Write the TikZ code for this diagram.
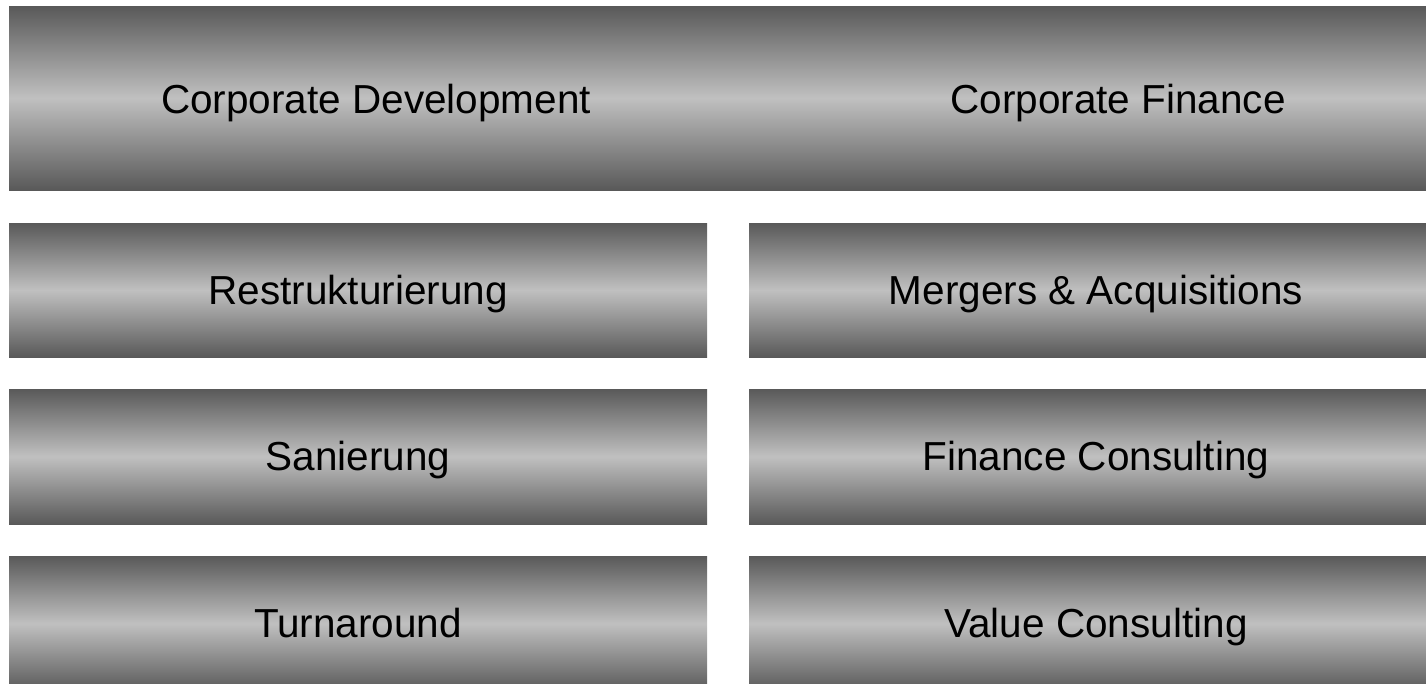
\documentclass[tikz,border=0pt]{standalone}
\usepackage{fontspec}
\setmainfont{Liberation Sans}
\begin{document}
\begin{tikzpicture}[x=1pt,y=-1pt,
  bar/.style={top color=bardark, bottom color=bardark, middle color=barlight, draw=none},
  lbl/.style={font=\fontsize{40.5}{48}\selectfont, text=black, inner sep=0pt, anchor=base}]
\definecolor{bardark}{RGB}{89,89,89}
\definecolor{barlight}{RGB}{192,192,192}
\useasboundingbox (0,0) rectangle (1426,683);
\begin{scope}
\clip (0,0) rectangle (1426,683);
\shade[bar] (9,6) rectangle (1426,190);
\shade[bar] (9,223) rectangle (707,357);
\shade[bar] (749,223) rectangle (1426,357);
\shade[bar] (9,389) rectangle (707,524);
\shade[bar] (749,389) rectangle (1426,524);
\shade[bar] (9,556) rectangle (707,691);
\shade[bar] (749,556) rectangle (1426,691);
\end{scope}
\node[lbl] (cd) at (376,113) {Corporate Development};
\node[lbl] (cf) at (1118,113) {Corporate Finance};
\node[lbl] (re) at (358,304) {Restrukturierung};
\node[lbl] (ma) at (1096,304) {Mergers \& Acquisitions};
\node[lbl] (sa) at (358,470) {Sanierung};
\node[lbl] (fc) at (1096,470) {Finance Consulting};
\node[lbl] (tu) at (358,637) {Turnaround};
\node[lbl] (vc) at (1096,637) {Value Consulting};
\end{tikzpicture}
\end{document}
